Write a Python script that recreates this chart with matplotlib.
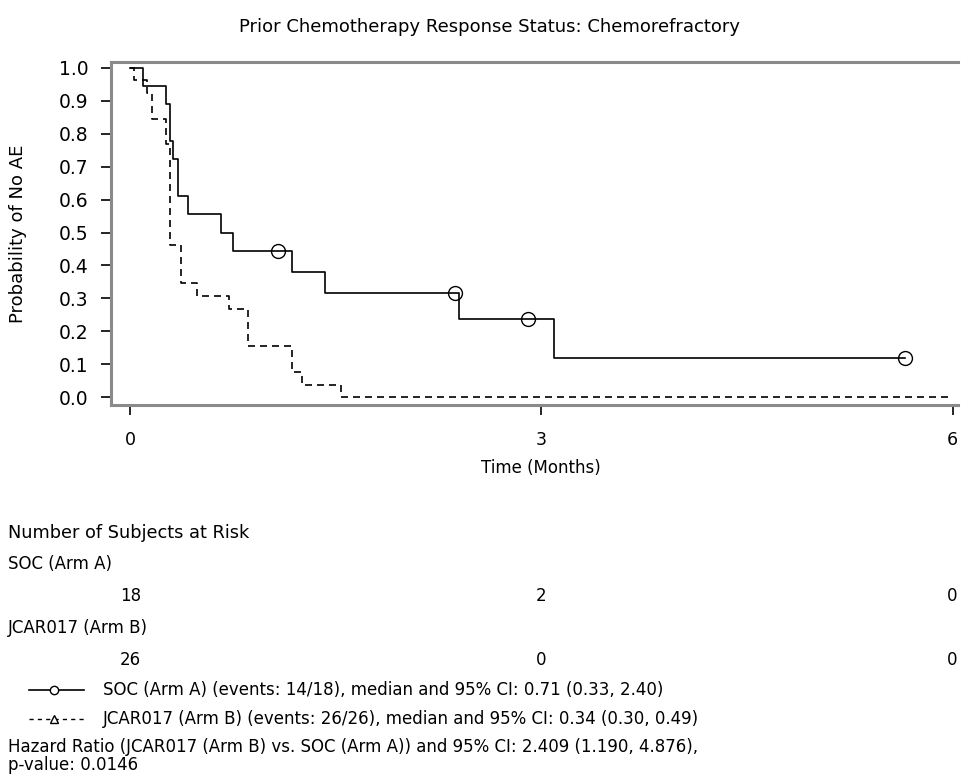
import matplotlib
matplotlib.use("Agg")
import matplotlib.pyplot as plt
from matplotlib.lines import Line2D
import matplotlib.transforms as mtransforms

# Kaplan-Meier step data
soc_t = [0.0, 0.09, 0.26, 0.29, 0.31, 0.35, 0.42, 0.66, 0.75, 1.18, 1.42, 2.40, 3.09]
soc_s = [1.0, 0.944, 0.889, 0.778, 0.722, 0.611, 0.556, 0.500, 0.444, 0.381, 0.317, 0.238, 0.119]
soc_end = 5.65
soc_cens_t = [1.08, 2.37, 2.90, 5.65]
soc_cens_s = [0.444, 0.317, 0.238, 0.119]

jcar_t = [0.0, 0.03, 0.12, 0.16, 0.26, 0.29, 0.37, 0.49, 0.72, 0.86, 1.18, 1.25, 1.54]
jcar_s = [1.0, 0.962, 0.923, 0.846, 0.769, 0.462, 0.346, 0.308, 0.269, 0.154, 0.077, 0.038, 0.0]
jcar_end = 6.0

risk_times = [0, 3, 6]
soc_risk = [18, 2, 0]
jcar_risk = [26, 0, 0]

title = "Prior Chemotherapy Response Status: Chemorefractory"
soc_label = "SOC (Arm A) (events: 14/18), median and 95% CI: 0.71 (0.33, 2.40)"
jcar_label = "JCAR017 (Arm B) (events: 26/26), median and 95% CI: 0.34 (0.30, 0.49)"
hr_text = "Hazard Ratio (JCAR017 (Arm B) vs. SOC (Arm A)) and 95% CI: 2.409 (1.190, 4.876),"
p_text = "p-value: 0.0146"

W, H = 962, 776
fig = plt.figure(figsize=(W / 100, H / 100), dpi=100)
plt.rcParams['font.family'] = ['DejaVu Sans']
fs = 12


def fy(py):
    return 1 - py / H


def fx(px):
    return px / W


ax = fig.add_axes([fx(111), fy(405), fx(958) - fx(111), fy(62) - fy(405)])

ax.step(soc_t + [soc_end], soc_s + [soc_s[-1]], where='post', color='black', lw=1.2)
ax.plot(soc_cens_t, soc_cens_s, 'o', ms=10, mfc='none', mec='black', mew=1.0)
ax.step(jcar_t + [jcar_end], jcar_s + [jcar_s[-1]], where='post', color='black',
        lw=1.2, dashes=(4.2, 3.0))

ax.set_xlim(-0.14, 6.04)
ax.set_ylim(-0.024, 1.018)
ax.set_xticks([0, 3, 6])
ax.set_yticks([i / 10 for i in range(11)])
ax.set_yticklabels([f"{i / 10:.1f}" for i in range(11)])
ax.tick_params(axis='both', length=7, width=1.2, color='black', labelsize=12.5)
ax.tick_params(axis='y', pad=9, labelsize=13.5)
ax.tick_params(axis='x', pad=12)

for side in ['left', 'bottom', 'top']:
    ax.spines[side].set_color('#8a8a8a')
    ax.spines[side].set_linewidth(2.2)
ax.spines['right'].set_visible(False)

ax.set_ylabel("Probability of No AE", fontsize=13)
ax.yaxis.set_label_coords(-(111 - 27) / (958 - 111), 0.5)
fig.text(fx(541), fy(468), "Time (Months)", fontsize=fs, ha='center', va='center')
fig.text(fx(490), fy(27), title, fontsize=13, ha='center', va='center')

# number at risk table
trans = mtransforms.blended_transform_factory(ax.transData, fig.transFigure)
fig.text(fx(8), fy(533), "Number of Subjects at Risk", fontsize=12.8, va='center')
fig.text(fx(8), fy(564), "SOC (Arm A)", fontsize=fs, va='center')
for t, n in zip(risk_times, soc_risk):
    fig.text(t, fy(596), str(n), fontsize=fs, ha='center', va='center', transform=trans)
fig.text(fx(8), fy(628), "JCAR017 (Arm B)", fontsize=fs, va='center')
for t, n in zip(risk_times, jcar_risk):
    fig.text(t, fy(660), str(n), fontsize=fs, ha='center', va='center', transform=trans)

# legend rows
fig.add_artist(Line2D([fx(29), fx(84)], [fy(690), fy(690)], color='black', lw=1.2,
                      transform=fig.transFigure))
fig.add_artist(Line2D([fx(54)], [fy(690)], marker='o', ms=6, mfc='white', mec='black',
                      mew=1.0, transform=fig.transFigure))
fig.add_artist(Line2D([fx(29), fx(84)], [fy(719), fy(719)], color='black', lw=1.0,
                      dashes=(3, 3), transform=fig.transFigure))
fig.add_artist(Line2D([fx(54)], [fy(719)], marker='^', ms=6, mfc='white', mec='black',
                      mew=1.0, transform=fig.transFigure))
fig.text(fx(103), fy(690), soc_label, fontsize=fs, va='center')
fig.text(fx(103), fy(719), jcar_label, fontsize=fs, va='center')
fig.text(fx(8), fy(747), hr_text, fontsize=fs, va='center')
fig.text(fx(8), fy(765), p_text, fontsize=fs, va='center')

fig.savefig("out.png", dpi=100)
